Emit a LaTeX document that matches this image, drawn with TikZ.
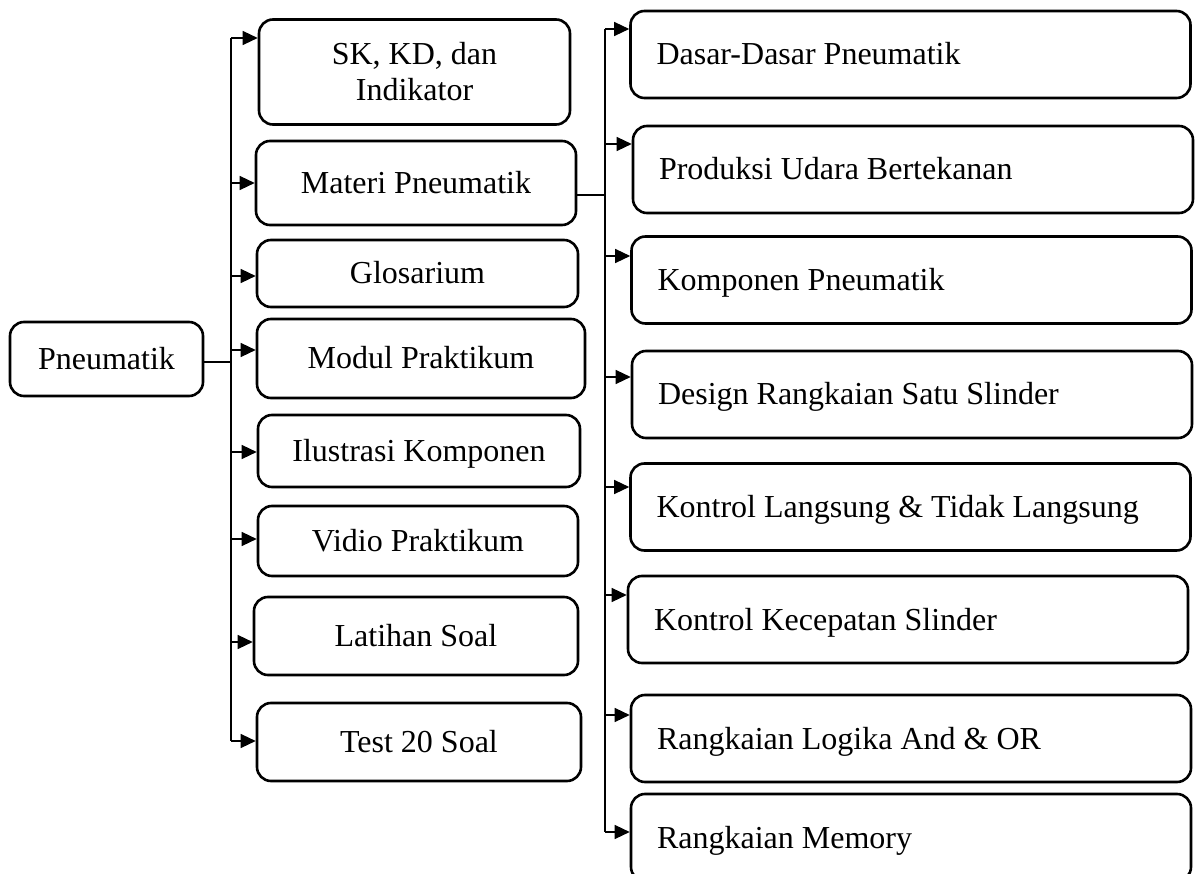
\documentclass[tikz,border=0pt]{standalone}
\usepackage{fontspec}
\setmainfont{Liberation Serif}
\usetikzlibrary{arrows.meta}
\begin{document}
\begin{tikzpicture}[x=1pt,y=-1pt,
  box/.style={draw, line width=2.6pt, rounded corners=14pt, inner sep=0pt,
              font=\fontsize{32}{36}\selectfont},
  capc/.style={text height=21pt, text depth=0pt},
  lbox/.style={box, capc, align=center},
  rbox/.style={box, capc, align=flush left, inner xsep=26pt, text width=508pt, minimum height=87pt,
               execute at begin node={\spaceskip=0pt\xspaceskip=0pt\relax}},
  link/.style={line width=1.3pt},
  arr/.style={link, -{Triangle[length=15pt,width=14pt]}}]
\useasboundingbox (0,0) rectangle (1197,874);
\clip (0,0) rectangle (1197,874);

% root
\node[lbox, minimum width=193pt, minimum height=74pt] (pn) at (106.5,359) {Pneumatik};

% first level
\node[box, align=center, minimum width=311pt, minimum height=105pt] (sk) at (414.5,72)
  {SK, KD, dan\\Indikator};
\node[lbox, minimum width=320pt, minimum height=84pt] (mp) at (416,183) {Materi Pneumatik};
\node[lbox, minimum width=321pt, minimum height=67pt] (gl) at (417.5,273.5) {Glosarium};
\node[lbox, minimum width=328pt, minimum height=79pt] (mo) at (421,358.5) {Modul Praktikum};
\node[lbox, minimum width=322pt, minimum height=72pt] (il) at (419,451) {Ilustrasi Komponen};
\node[lbox, minimum width=320pt, minimum height=70pt] (vi) at (418,541) {Vidio Praktikum};
\node[lbox, minimum width=324pt, minimum height=78pt] (la) at (416,636) {Latihan Soal};
\node[lbox, minimum width=324pt, minimum height=78pt] (te) at (419,742) {Test 20 Soal};

% second level (Materi Pneumatik)
\node[rbox] (r1) at (910.5,54.5) {Dasar-Dasar Pneumatik};
\node[rbox] (r2) at (913,169.5) {Produksi Udara Bertekanan};
\node[rbox] (r3) at (911.5,280) {Komponen Pneumatik};
\node[rbox] (r4) at (912,394.5) {Design Rangkaian Satu Slinder};
\node[rbox] (r5) at (910.5,507) {Kontrol Langsung \& Tidak Langsung};
\node[rbox] (r6) at (908,619.5) {Kontrol Kecepatan Slinder};
\node[rbox] (r7) at (911,738.5) {Rangkaian Logika And \& OR};
\node[rbox] (r8) at (911,837.5) {Rangkaian Memory};

% left trunk junctions
\coordinate (jp) at (231,362);
\coordinate (j1) at (231,38);
\coordinate (j2) at (231,183);
\coordinate (j3) at (231,276);
\coordinate (j4) at (231,350);
\coordinate (j5) at (231,452);
\coordinate (j6) at (231,539);
\coordinate (j7) at (231,642);
\coordinate (j8) at (231,741);

\draw[link] (jp -| pn.east) -- (jp);
\draw[link] (j1) -- (j8);
\draw[arr] (j1) -- (j1 -| sk.west);
\draw[arr] (j2) -- (j2 -| mp.west);
\draw[arr] (j3) -- (j3 -| gl.west);
\draw[arr] (j4) -- (j4 -| mo.west);
\draw[arr] (j5) -- (j5 -| il.west);
\draw[arr] (j6) -- (j6 -| vi.west);
\draw[arr] (j7) -- (j7 -| la.west);
\draw[arr] (j8) -- (j8 -| te.west);

% right trunk junctions
\coordinate (k0) at (605,195);
\coordinate (k1) at (605,29);
\coordinate (k2) at (605,144);
\coordinate (k3) at (605,256);
\coordinate (k4) at (605,377);
\coordinate (k5) at (605,487);
\coordinate (k6) at (605,595);
\coordinate (k7) at (605,715);
\coordinate (k8) at (605,832);

\draw[link] (k0 -| mp.east) -- (k0);
\draw[link] (k1) -- (k8);
\draw[arr] (k1) -- (k1 -| r1.west);
\draw[arr] (k2) -- (k2 -| r2.west);
\draw[arr] (k3) -- (k3 -| r3.west);
\draw[arr] (k4) -- (k4 -| r4.west);
\draw[arr] (k5) -- (k5 -| r5.west);
\draw[arr] (k6) -- (k6 -| r6.west);
\draw[arr] (k7) -- (k7 -| r7.west);
\draw[arr] (k8) -- (k8 -| r8.west);
\end{tikzpicture}
\end{document}
